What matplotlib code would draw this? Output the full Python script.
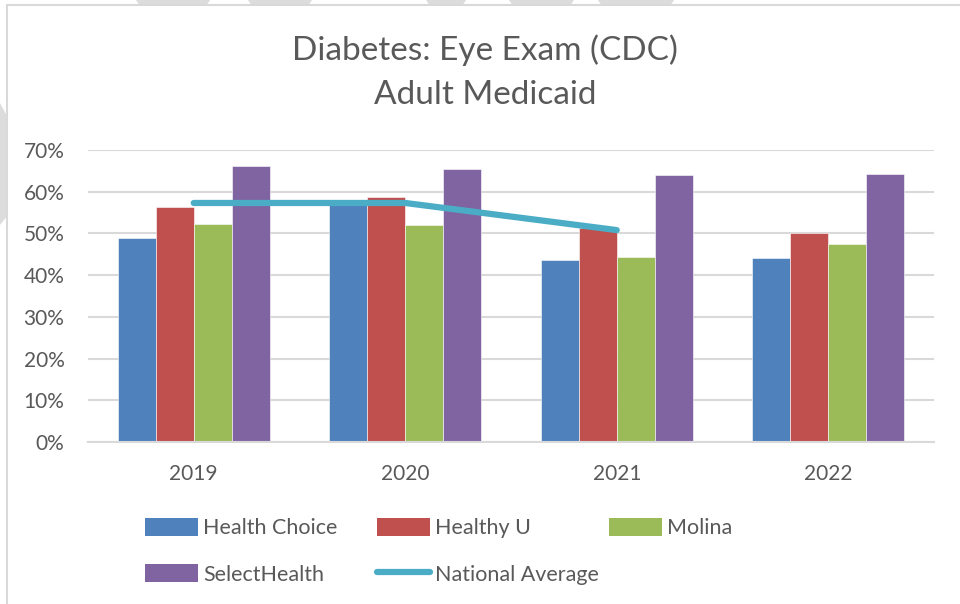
import matplotlib
matplotlib.use("Agg")
import matplotlib.pyplot as plt
import numpy as np
from matplotlib.patches import Rectangle, Patch, Polygon
from matplotlib.lines import Line2D
from matplotlib.ticker import PercentFormatter

plt.rcParams['font.family'] = ['Lato', 'DejaVu Sans']

years = ['2019', '2020', '2021', '2022']
health_choice = [0.489, 0.568, 0.436, 0.441]
healthy_u = [0.563, 0.587, 0.513, 0.501]
molina = [0.523, 0.520, 0.443, 0.475]
select_health = [0.662, 0.654, 0.640, 0.642]
national_avg = [0.573, 0.573, 0.508]  # no value for 2022

series = [
    ('Health Choice', health_choice, '#4F81BD'),
    ('Healthy U', healthy_u, '#C0504D'),
    ('Molina', molina, '#9BBB59'),
    ('SelectHealth', select_health, '#8064A2'),
]
line_color = '#4BACC6'
text_color = '#595959'
grid_color = '#D9D9D9'

W, H = 960, 604
fig = plt.figure(figsize=(9.6, 6.04), dpi=100)


def fx(px):
    return px / W


def fy(py):
    return 1 - py / H


# faint watermark bits peeking out around the chart frame
wm = '#DCDCDC'
for x0, x1 in [(136, 210), (248, 312), (426, 466), (509, 574), (598, 674)]:
    fig.patches.append(Polygon([(fx(x0), fy(0)), (fx(x1), fy(0)), (fx(x1 - 4), fy(6)), (fx(x0 + 4), fy(6))],
                               closed=True, transform=fig.transFigure, facecolor=wm, edgecolor='none', zorder=0))
fig.patches.append(Polygon([(fx(0), fy(103)), (fx(8), fy(118)), (fx(8), fy(215)), (fx(0), fy(225))],
                           closed=True, transform=fig.transFigure, facecolor=wm, edgecolor='none', zorder=0))

# chart frame
fig.patches.append(Rectangle((fx(7), -0.01), 1.0, fy(5) + 0.01, transform=fig.transFigure,
                             facecolor='white', edgecolor='#D9D9D9', linewidth=1.5, zorder=0.5))

ax = fig.add_axes([fx(88), fy(442), fx(846), 292 / H])
ax.set_zorder(2)
ax.patch.set_alpha(0)

x = np.arange(len(years))
width = 0.18
handles = {}
for i, (name, vals, col) in enumerate(series):
    ax.bar(x + (i - 1.5) * width, vals, width, color=col, edgecolor='white',
           linewidth=0.4, zorder=2, label=name)
    handles[name] = Patch(facecolor=col, edgecolor='none')

ax.plot(x[:len(national_avg)], national_avg, color=line_color, linewidth=4.5,
        solid_capstyle='round', zorder=3)
handles['National Average'] = Line2D([0], [0], color=line_color, linewidth=4.5, solid_capstyle='round')

ax.set_xlim(-0.5, 3.5)
ax.set_ylim(0, 0.7)
ax.set_yticks(np.arange(0, 0.71, 0.1))
ax.yaxis.set_major_formatter(PercentFormatter(1.0, decimals=0))
ax.set_xticks(x)
ax.set_xticklabels(years)
ax.tick_params(axis='both', length=0, labelsize=15, colors=text_color)
ax.tick_params(axis='y', pad=17)
ax.tick_params(axis='x', pad=16)
ax.grid(axis='y', color=grid_color, linewidth=1.5, zorder=0)
ax.set_axisbelow(True)
for s in ['top', 'right', 'left']:
    ax.spines[s].set_visible(False)
ax.spines['bottom'].set_color(grid_color)
ax.spines['bottom'].set_linewidth(1.5)

fig.text(fx(485), fy(50), 'Diabetes: Eye Exam (CDC)', ha='center', va='center',
         fontsize=24, color=text_color, zorder=3)
fig.text(fx(485), fy(95), 'Adult Medicaid', ha='center', va='center',
         fontsize=24, color=text_color, zorder=3)

# legend laid out as three fixed columns, like the spreadsheet one
columns = [(145, ['Health Choice', 'SelectHealth']),
           (377, ['Healthy U', 'National Average']),
           (609, ['Molina'])]
for left, names in columns:
    leg = fig.legend([handles[k] for k in names], names, loc='upper left',
                     bbox_to_anchor=(fx(left), fy(518)), frameon=False,
                     fontsize=15.5, handlelength=2.45, handleheight=0.9, handletextpad=0.25,
                     labelspacing=1.2, borderaxespad=0, borderpad=0)
    leg.set_zorder(3)
    for t in leg.get_texts():
        t.set_color(text_color)

fig.savefig('out.png', dpi=100, facecolor='white')
